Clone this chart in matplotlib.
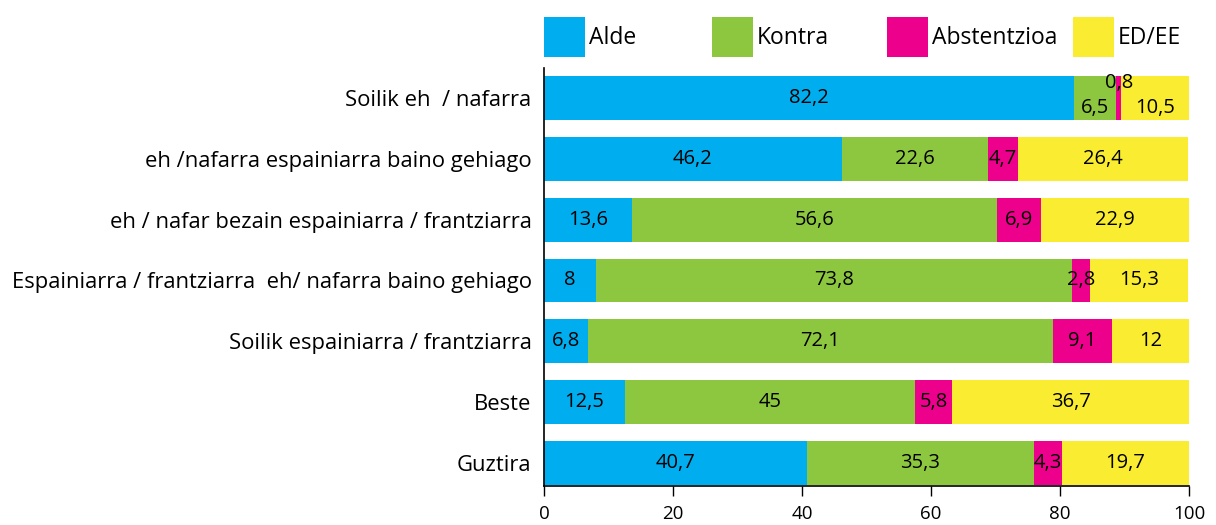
import matplotlib
matplotlib.use("Agg")
import matplotlib.pyplot as plt
from matplotlib.patches import Rectangle

plt.rcParams['font.family'] = ['Open Sans', 'DejaVu Sans']

categories = [
    "Soilik eh  / nafarra",
    "eh /nafarra espainiarra baino gehiago",
    "eh / nafar bezain espainiarra / frantziarra",
    "Espainiarra / frantziarra  eh/ nafarra baino gehiago",
    "Soilik espainiarra / frantziarra",
    "Beste",
    "Guztira",
]
series_names = ["Alde", "Kontra", "Abstentzioa", "ED/EE"]
alde = [82.2, 46.2, 13.6, 8, 6.8, 12.5, 40.7]
kontra = [6.5, 22.6, 56.6, 73.8, 72.1, 45, 35.3]
abstentzioa = [0.8, 4.7, 6.9, 2.8, 9.1, 5.8, 4.3]
ed_ee = [10.5, 26.4, 22.9, 15.3, 12, 36.7, 19.7]
xticks = [0, 20, 40, 60, 80, 100]

colors = ["#00AEEF", "#8DC63F", "#EC008C", "#F9EC31"]
series = [alde, kontra, abstentzioa, ed_ee]

W, H = 1216, 525
fig = plt.figure(figsize=(W / 100, H / 100), dpi=100)
ax = fig.add_axes([544 / W, (H - 486) / H, (1189 - 544) / W, (486 - 68) / H])

ypos = list(range(len(categories)))
left = [0.0] * len(categories)
bar_h = 0.723
fs_val = 14.5
fs_cat = 15.8
fs_tick = 13.5
fs_leg = 16.5

def fmt(v):
    return f"{v:g}".replace('.', ',')

for si, (vals, col) in enumerate(zip(series, colors)):
    ax.barh(ypos, vals, left=left, height=bar_h, color=col, edgecolor='none', zorder=2)
    for i, (v, l) in enumerate(zip(vals, left)):
        dy = 0
        if i == 0 and si in (1, 3):
            dy = 0.16
        if i == 0 and si == 2:
            dy = -0.25
        ax.text(l + v / 2, i + dy, fmt(v), ha='center', va='center', fontsize=fs_val,
                color='black', zorder=3)
    left = [a + b for a, b in zip(left, vals)]

ax.set_xlim(0, 100)
ax.set_ylim(6 + 0.378, -0.493)
ax.set_yticks(ypos)
ax.set_yticklabels(categories, fontsize=fs_cat)
ax.set_xticks(xticks)
ax.set_xticklabels([str(t) for t in xticks], fontsize=fs_tick)
ax.tick_params(axis='y', length=0, pad=9)
ax.tick_params(axis='x', length=7, width=1, direction='out', pad=7, colors='black')
for s in ['top', 'right']:
    ax.spines[s].set_visible(False)
for s in ['left', 'bottom']:
    ax.spines[s].set_linewidth(1.2)
    ax.spines[s].set_color('black')

# legend (manual placement)
leg_x = [544, 712, 887, 1073]
for x, name, col in zip(leg_x, series_names, colors):
    fig.patches.append(Rectangle((x / W, (H - 57) / H), 41 / W, 40 / H,
                                 transform=fig.transFigure, color=col, ec='none'))
    fig.text((x + 45) / W, (H - 38) / H, name, ha='left', va='center', fontsize=fs_leg)

fig.savefig("out.png", dpi=100)
